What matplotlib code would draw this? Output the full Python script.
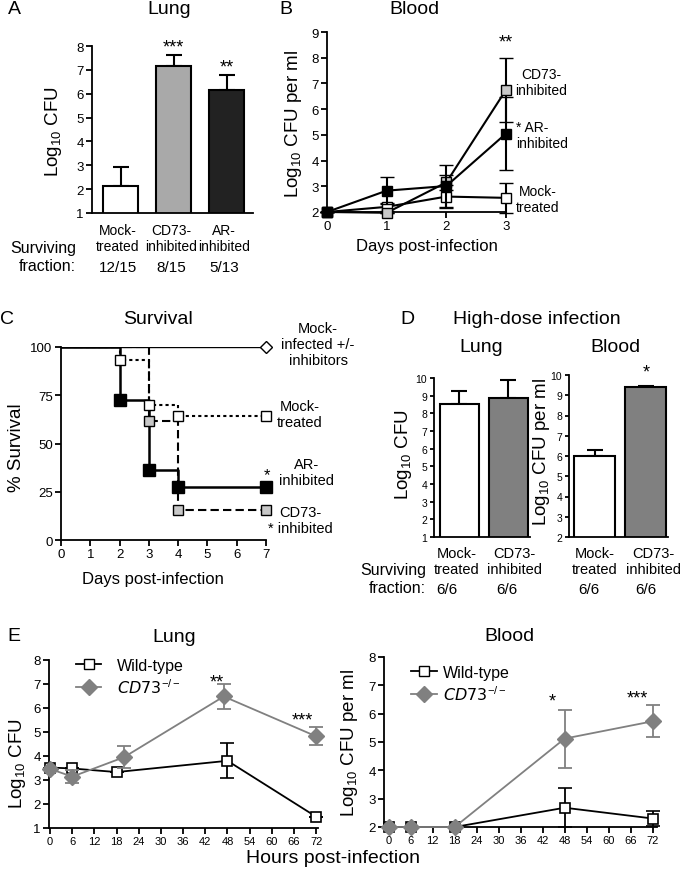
import numpy as np
import matplotlib
matplotlib.use('Agg')
import matplotlib.pyplot as plt
from matplotlib.lines import Line2D
from matplotlib.transforms import blended_transform_factory

plt.rcParams['font.family'] = ['Liberation Sans', 'DejaVu Sans']
plt.rcParams['mathtext.default'] = 'regular'

# ---- data ----
# A: lung CFU at day 3
a_groups = ['Mock-\ntreated', 'CD73-\ninhibited', 'AR-\ninhibited']
a_lung = [2.15, 7.15, 6.17]
a_lung_err = [0.77, 0.47, 0.62]
a_colors = ['white', '#a9a9a9', '#222222']
a_fraction = ['12/15', '8/15', '5/13']
a_stars = ['', '***', '**']

# B: blood CFU over days
b_days = [0, 1, 2, 3]
b_mock = [2.0, 2.2, 2.6, 2.55]
b_mock_err = [0, 0.15, 0.45, 0.57]
b_cd73 = [2.0, 1.97, 3.15, 6.75]
b_cd73_err = [0, 0, 0.3, 1.25]
b_ar = [2.0, 2.83, 3.01, 5.05]
b_ar_err = [0, 0.53, 0.83, 1.42]

# C: survival
c_days_inf = [0, 7]
c_inf = [100, 100]
c_days_mock = [0, 2, 3, 4, 7]
c_mock = [100, 93.3, 70.2, 64.4, 64.4]
c_days_cd73 = [0, 3, 4, 7]
c_cd73 = [100, 61.5, 15.4, 15.4]
c_days_ar = [0, 2, 3, 4, 7]
c_ar = [100, 72.7, 36.4, 27.3, 27.3]

# D: high-dose infection
d_groups = ['Mock-\ntreated', 'CD73-\ninhibited']
d_colors = ['white', '#808080']
d_lung = [8.53, 8.87]
d_lung_err = [0.75, 1.03]
d_blood = [6.0, 9.4]
d_blood_err = [0.3, 0.07]
d_fraction = ['6/6', '6/6']

# E: wild-type vs CD73-/- mice
e_hours_wt = [0, 6, 18, 48, 72]
e_hours_ko = [0, 6, 20, 47, 72]
e_lung_wt = [3.52, 3.48, 3.33, 3.8, 1.47]
e_lung_wt_err = [0, 0, 0, 0.73, 0]
e_lung_ko = [3.46, 3.14, 3.95, 6.48, 4.82]
e_lung_ko_err = [0, 0.28, 0.47, 0.52, 0.38]
e_blood_hours = [0, 6, 18, 48, 72]
e_blood_wt = [2.0, 2.0, 2.0, 2.68, 2.3]
e_blood_wt_err = [0, 0, 0, 0.68, 0.27]
e_blood_ko = [2.0, 2.0, 2.0, 5.12, 5.73]
e_blood_ko_err = [0, 0, 0, 1.02, 0.57]

W, H = 682, 870
fig = plt.figure(figsize=(W / 100, H / 100), dpi=100)


def add_ax(left, top, right, bottom):
    return fig.add_axes([left / W, 1 - bottom / H, (right - left) / W, (bottom - top) / H])


def ftext(x, y, s, size=10, **kw):
    kw.setdefault('ha', 'center')
    kw.setdefault('va', 'center')
    fig.text(x / W, 1 - y / H, s, fontsize=size, **kw)


def under(ax, x, y, s, size=10, **kw):
    tr = blended_transform_factory(ax.transData, fig.transFigure)
    ax.text(x, 1 - y / H, s, transform=tr, ha='center', va='center', fontsize=size,
            clip_on=False, **kw)


def style(ax, size):
    for s in ['top', 'right']:
        ax.spines[s].set_visible(False)
    for s in ['left', 'bottom']:
        ax.spines[s].set_linewidth(1.3)
    ax.tick_params(direction='out', width=1.3, length=4, labelsize=size, pad=2)


ylab = 'Log$_{10}$ CFU'
ylab_ml = 'Log$_{10}$ CFU per ml'

# ---- A ----
axA = add_ax(92, 47, 253, 214)
xa = np.arange(len(a_lung))
axA.bar(xa, a_lung, width=0.66, color=a_colors, edgecolor='black', linewidth=1.5, zorder=2)
axA.errorbar(xa, a_lung, yerr=[np.zeros(3), a_lung_err], fmt='none', ecolor='black',
             elinewidth=1.5, capsize=6, capthick=1.5, zorder=1)
for i in range(3):
    axA.text(xa[i], a_lung[i] + a_lung_err[i] + 0.35, a_stars[i], ha='center', va='center', fontsize=13)
    under(axA, xa[i] - 0.05, 239, a_groups[i], size=10, linespacing=1.15)
    under(axA, xa[i] - 0.05, 268, a_fraction[i], size=11)
axA.set_xlim(-0.54, 2.5)
axA.set_ylim(1, 8)
axA.set_yticks(range(1, 9))
axA.set_xticks([])
style(axA, 9.5)
ftext(76, 258, 'Surviving\nfraction:', size=11.5, ha='right', linespacing=1.25)
ftext(53, 132, ylab, size=13.5, rotation=90)
ftext(14, 9, 'A', size=14)
ftext(169, 9, 'Lung', size=14)

# ---- B ----
axB = add_ax(327, 33, 506, 213)
eb = dict(color='black', lw=1.5, elinewidth=1.5, capsize=5, capthick=1.5, marker='s',
          markersize=7.5, markeredgecolor='black', markeredgewidth=1, clip_on=False)
axB.errorbar(b_days, b_mock, yerr=b_mock_err, markerfacecolor='white', zorder=3, **eb)
axB.errorbar(b_days, b_cd73, yerr=b_cd73_err, markerfacecolor='#c8c8c8', zorder=4, **eb)
axB.errorbar(b_days, b_ar, yerr=b_ar_err, markerfacecolor='black', zorder=5, **eb)
axB.set_xlim(0, 3)
axB.set_ylim(2, 9)
axB.set_xticks(b_days)
axB.set_yticks(range(2, 10))
style(axB, 9.5)
axB.text(3, 8.6, '**', ha='center', va='center', fontsize=13)
ftext(541, 83, 'CD73-\ninhibited', size=10, linespacing=1.1)
ftext(516, 136, '* AR-\ninhibited', size=10, linespacing=1.1, ha='left', multialignment='left')
ftext(538, 200, 'Mock-\ntreated', size=10, linespacing=1.1)
ftext(427, 247, 'Days post-infection', size=12)
ftext(294, 124, ylab_ml, size=13.5, rotation=90)
ftext(286, 9, 'B', size=14)
ftext(414, 9, 'Blood', size=14)

# ---- C ----
axC = add_ax(61, 348, 266, 541)
axC.plot(c_days_inf, c_inf, color='black', lw=1, zorder=2)
axC.plot(c_days_inf[-1:], c_inf[-1:], 'D', ms=6.5, mfc='white', mec='black', mew=1,
         clip_on=False, zorder=6)
axC.step(c_days_mock, c_mock, where='post', color='black', lw=1.5, ls=(0, (1.5, 1.5)), zorder=3)
axC.plot(c_days_mock[1:], c_mock[1:], 's', ms=7, mfc='white', mec='black', mew=1,
         clip_on=False, zorder=5)
axC.step(c_days_cd73, c_cd73, where='post', color='black', lw=1.5, ls=(0, (4, 2)), zorder=3)
axC.plot(c_days_cd73[1:], c_cd73[1:], 's', ms=7, mfc='#c8c8c8', mec='black', mew=1,
         clip_on=False, zorder=5)
axC.step(c_days_ar, c_ar, where='post', color='black', lw=1.8, zorder=4)
axC.plot(c_days_ar[1:], c_ar[1:], 's', ms=9, mfc='black', mec='black', clip_on=False, zorder=5)
axC.set_xlim(0, 7)
axC.set_ylim(0, 100)
axC.set_xticks(range(8))
axC.set_yticks([0, 25, 50, 75, 100])
style(axC, 9.5)
ftext(318, 345, 'Mock-\ninfected +/-\ninhibitors', size=10.5, linespacing=1.15)
ftext(300, 415, 'Mock-\ntreated', size=10.5, linespacing=1.15)
ftext(307, 473, 'AR-\ninhibited', size=10.5, linespacing=1.15)
ftext(267, 476, '*', size=12)
ftext(300, 521, 'CD73-\n* inhibited', size=10.5, linespacing=1.15)
ftext(153, 580, 'Days post-infection', size=12)
ftext(17, 448, '% Survival', size=13.5, rotation=90)
ftext(7, 320, 'C', size=14)
ftext(158, 320, 'Survival', size=14)

# ---- D ----
xd = np.arange(2)
axDl = add_ax(434, 379, 530, 538)
axDl.bar(xd, d_lung, width=0.8, color=d_colors, edgecolor='black', linewidth=1.5, zorder=2)
axDl.errorbar(xd, d_lung, yerr=[np.zeros(2), d_lung_err], fmt='none', ecolor='black',
              elinewidth=1.5, capsize=6, capthick=1.5, zorder=1)
axDl.set_xlim(-0.52, 1.44)
axDl.set_ylim(1, 10)
axDl.set_yticks(range(1, 11))
axDl.set_xticks([])
style(axDl, 7.5)
axDl.tick_params(axis='y', length=3)

axDb = add_ax(569, 376, 668, 538)
axDb.bar(xd, d_blood, width=0.8, color=d_colors, edgecolor='black', linewidth=1.5, zorder=2)
axDb.errorbar(xd, d_blood, yerr=[np.zeros(2), d_blood_err], fmt='none', ecolor='black',
              elinewidth=1.5, capsize=6, capthick=1.5, zorder=1)
axDb.text(1, 10.15, '*', ha='center', va='center', fontsize=13, clip_on=False)
axDb.set_xlim(-0.5, 1.43)
axDb.set_ylim(2, 10)
axDb.set_yticks(range(2, 11))
axDb.set_xticks([])
style(axDb, 7.5)
axDb.tick_params(axis='y', length=3)

lung_lab_dx = [-0.05, 0.12]
blood_lab_dx = [0.0, 0.14]
lung_frac_dx = [-0.25, -0.03]
blood_frac_dx = [-0.12, 0.0]
for i in range(2):
    under(axDl, xd[i] + lung_lab_dx[i], 562, d_groups[i], size=10.5, linespacing=1.25)
    under(axDb, xd[i] + blood_lab_dx[i], 562, d_groups[i], size=10.5, linespacing=1.25)
    under(axDl, xd[i] + lung_frac_dx[i], 590, d_fraction[i], size=11)
    under(axDb, xd[i] + blood_frac_dx[i], 590, d_fraction[i], size=11)
ftext(426, 580, 'Surviving\nfraction:', size=11.5, ha='right', linespacing=1.25)
ftext(404, 455, ylab, size=13.5, rotation=90)
ftext(541, 452, ylab_ml, size=13.5, rotation=90)
ftext(407, 320, 'D', size=14)
ftext(537, 320, 'High-dose infection', size=14)
ftext(481, 348, 'Lung', size=14)
ftext(615, 348, 'Blood', size=14)

# ---- E ----
wt_kw = dict(color='black', lw=1.3, elinewidth=1.3, capsize=5, capthick=1.3, marker='s',
             markersize=7, mfc='white', mec='black', mew=1.2, clip_on=False, zorder=3)
ko_kw = dict(color='#808080', lw=1.3, elinewidth=1.3, capsize=5, capthick=1.3, marker='D',
             markersize=8, mfc='#808080', mec='#808080', clip_on=False, zorder=4)
handles = [Line2D([], [], color='black', lw=1.3, marker='s', ms=7, mfc='white', mec='black'),
           Line2D([], [], color='#808080', lw=1.3, marker='D', ms=8, mfc='#808080', mec='#808080')]
labels = ['Wild-type', '$\\mathit{CD73}^{-/-}$']

axEl = add_ax(49, 661, 318, 829)
axEl.errorbar(e_hours_wt, e_lung_wt, yerr=e_lung_wt_err, **wt_kw)
axEl.errorbar(e_hours_ko, e_lung_ko, yerr=e_lung_ko_err, **ko_kw)
axEl.set_xlim(-0.3, 72.5)
axEl.set_ylim(1, 8)
axEl.set_xticks(range(0, 73, 6))
axEl.set_yticks(range(1, 9))
style(axEl, 9.5)
axEl.tick_params(axis='x', labelsize=8)
axEl.text(45.2, 7.1, '**', ha='center', va='center', fontsize=13)
axEl.text(68.2, 5.5, '***', ha='center', va='center', fontsize=13)
axEl.legend(handles, labels, loc='upper left', bbox_to_anchor=(0.07, 1.06), frameon=False,
            fontsize=11.5, handlelength=1.6, handletextpad=1.0, labelspacing=0.25, borderpad=0)

axEb = add_ax(384, 658, 657, 828)
axEb.errorbar(e_blood_hours, e_blood_wt, yerr=e_blood_wt_err, **wt_kw)
axEb.errorbar(e_blood_hours, e_blood_ko, yerr=e_blood_ko_err, **ko_kw)
axEb.set_xlim(-1.3, 73.2)
axEb.set_ylim(2, 8)
axEb.set_xticks(range(0, 73, 6))
axEb.set_yticks(range(2, 9))
style(axEb, 9.5)
axEb.tick_params(axis='x', labelsize=8)
axEb.text(44.5, 6.45, '*', ha='center', va='center', fontsize=13)
axEb.text(67.9, 6.55, '***', ha='center', va='center', fontsize=13)
axEb.legend(handles, labels, loc='upper left', bbox_to_anchor=(0.07, 1.0), frameon=False,
            fontsize=11.5, handlelength=1.6, handletextpad=0.4, labelspacing=0.25, borderpad=0)

ftext(18, 764, ylab, size=13.5, rotation=90)
ftext(349, 743, ylab_ml, size=13.5, rotation=90)
ftext(14, 637, 'E', size=14)
ftext(174, 638, 'Lung', size=14)
ftext(509, 637, 'Blood', size=14)
ftext(333, 859, 'Hours post-infection', size=14)

fig.savefig('out.png', dpi=100)
